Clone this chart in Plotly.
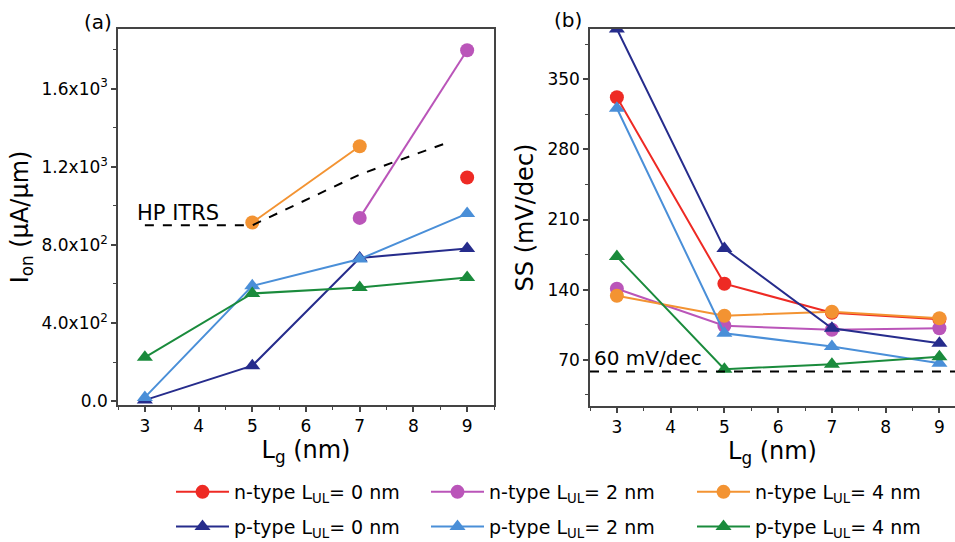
import plotly.graph_objects as go

W, H = 955, 542
FONT = "DejaVu Sans"

# ---------------- data ----------------
lg = [3, 5, 7, 9]
series_names = [
    "n-type L<sub>UL</sub>= 0 nm", "n-type L<sub>UL</sub>= 2 nm", "n-type L<sub>UL</sub>= 4 nm",
    "p-type L<sub>UL</sub>= 0 nm", "p-type L<sub>UL</sub>= 2 nm", "p-type L<sub>UL</sub>= 4 nm",
]
colors = ["#EE2A24", "#BA55B9", "#F39332", "#262C8C", "#4A8FD8", "#1A8B3C"]
symbols = ["circle", "circle", "circle", "triangle-up", "triangle-up", "triangle-up"]
legend_ids = ["legend", "legend2", "legend3", "legend", "legend2", "legend3"]

# (a) Ion (uA/um); None = not available
ion_n0 = [None, None, None, 1145]
ion_n2 = [None, None, 938, 1796]
ion_n4 = [None, 914, 1305, None]
ion_p0 = [5, 181, 733, 781]
ion_p2 = [19, 590, 727, 960]
ion_p4 = [224, 551, 582, 633]
ion_series = [ion_n0, ion_n2, ion_n4, ion_p0, ion_p2, ion_p4]

itrs_x = [3, 5, 7, 8.7]
itrs_y = [900, 900, 1160, 1330]

# (b) SS (mV/dec)
ss_n0 = [332, 146, 117, 110.5]
ss_n2 = [141, 104, 100, 101.6]
ss_n4 = [134, 114, 118, 111.5]
ss_p0 = [400, 181, 101.6, 86.6]
ss_p2 = [321, 96.6, 83.3, 66.7]
ss_p4 = [173, 60.7, 65.7, 73]
ss_series = [ss_n0, ss_n2, ss_n4, ss_p0, ss_p2, ss_p4]

ss_ref_x = [2.5, 9.5]
ss_ref_y = [58.5, 58.5]

ion_tickvals = [0, 400, 800, 1200, 1600]
ion_ticktext = ["0.0", "4.0x10<sup>2</sup>", "8.0x10<sup>2</sup>", "1.2x10<sup>3</sup>", "1.6x10<sup>3</sup>"]
ss_tickvals = [70, 140, 210, 280, 350]
x_tickvals = [3, 4, 5, 6, 7, 8, 9]

# ---------------- figure ----------------
def px_x(p):
    return p / W

def px_y(p):
    return (H - p) / H

fig = go.Figure()

for i in range(6):
    fig.add_trace(go.Scatter(
        x=lg, y=ion_series[i], mode="lines+markers", name=series_names[i],
        line=dict(color=colors[i], width=2),
        marker=dict(color=colors[i], symbol=symbols[i], size=14),
        xaxis="x", yaxis="y", legendgroup=str(i), legend=legend_ids[i],
        connectgaps=False,
    ))
    fig.add_trace(go.Scatter(
        x=lg, y=ss_series[i], mode="lines+markers", name=series_names[i],
        line=dict(color=colors[i], width=2),
        marker=dict(color=colors[i], symbol=symbols[i], size=14),
        xaxis="x2", yaxis="y2", legendgroup=str(i), showlegend=False,
    ))

fig.add_trace(go.Scatter(x=itrs_x, y=itrs_y, mode="lines", showlegend=False,
                         line=dict(color="black", width=2, dash="dash"),
                         xaxis="x", yaxis="y"))
fig.add_trace(go.Scatter(x=ss_ref_x, y=ss_ref_y, mode="lines", showlegend=False,
                         line=dict(color="black", width=2, dash="dash"),
                         xaxis="x2", yaxis="y2"))

axcol = "#444444"
tickfont = dict(family=FONT, size=17, color="black")
titlefont = dict(family=FONT, size=24, color="black")

common_x = dict(
    tickvals=x_tickvals, ticks="outside", ticklen=5, tickwidth=1.5, tickcolor=axcol,
    showline=True, linecolor=axcol, linewidth=1.5, showgrid=False, zeroline=False,
    tickfont=tickfont,
    minor=dict(dtick=0.5, tick0=3, ticks="outside", ticklen=3, tickwidth=1.2, tickcolor=axcol),
    title=dict(text="L<sub>g</sub> (nm)", font=titlefont, standoff=4),
)

def legend_box(xpx):
    return dict(orientation="v", x=px_x(xpx), y=px_y(473), xanchor="left", yanchor="top",
                itemwidth=53, tracegroupgap=7,
                font=dict(family=FONT, size=19, color="black"), bgcolor="rgba(0,0,0,0)")

fig.update_layout(
    width=W, height=H, margin=dict(l=0, r=0, t=0, b=0, autoexpand=False),
    paper_bgcolor="white", plot_bgcolor="white",
    font=dict(family=FONT, color="black"),
    xaxis=dict(domain=[px_x(118), px_x(494)], range=[2.5, 9.5], anchor="y",
               mirror=True, **common_x),
    yaxis=dict(domain=[px_y(405), px_y(29)], range=[-20, 1905], anchor="x",
               tickvals=ion_tickvals, ticktext=ion_ticktext,
               ticks="outside", ticklen=5, tickwidth=1.5, tickcolor=axcol,
               showline=True, linecolor=axcol, linewidth=1.5, mirror=True,
               showgrid=False, zeroline=False, tickfont=tickfont,
               minor=dict(dtick=200, tick0=0, ticks="outside", ticklen=3, tickwidth=1.2, tickcolor=axcol),
               title=dict(text="I<sub>on</sub> (μA/μm)", font=titlefont, standoff=6)),
    xaxis2=dict(domain=[px_x(590), 1.0], range=[2.5, 9.29], anchor="y2",
                mirror=True, **common_x),
    yaxis2=dict(domain=[px_y(406), px_y(29)], range=[24, 400], anchor="x2",
                tickvals=ss_tickvals,
                ticks="outside", ticklen=5, tickwidth=1.5, tickcolor=axcol,
                showline=True, linecolor=axcol, linewidth=1.5, mirror=False,
                showgrid=False, zeroline=False, tickfont=tickfont,
                minor=dict(dtick=35, tick0=0, ticks="outside", ticklen=3, tickwidth=1.2, tickcolor=axcol),
                title=dict(text="SS (mV/dec)", font=titlefont, standoff=7)),
    legend=legend_box(171),
    legend2=legend_box(426),
    legend3=legend_box(692),
    annotations=[
        dict(text="(a)", x=px_x(98), y=px_y(22), xref="paper", yref="paper",
             xanchor="center", yanchor="middle",
             showarrow=False, font=dict(family=FONT, size=20, color="black")),
        dict(text="(b)", x=px_x(568), y=px_y(20), xref="paper", yref="paper",
             xanchor="center", yanchor="middle",
             showarrow=False, font=dict(family=FONT, size=20, color="black")),
        dict(text="HP ITRS", x=3, y=900, xref="x", yref="y", xanchor="left", yanchor="bottom",
             xshift=-10, yshift=-2, showarrow=False, font=dict(family=FONT, size=21, color="black")),
        dict(text="60 mV/dec", x=2.5, y=58.5, xref="x2", yref="y2", xanchor="left", yanchor="bottom",
             xshift=2, yshift=-1, showarrow=False, font=dict(family=FONT, size=20, color="black")),
    ],
)

fig.write_html("out.html")
